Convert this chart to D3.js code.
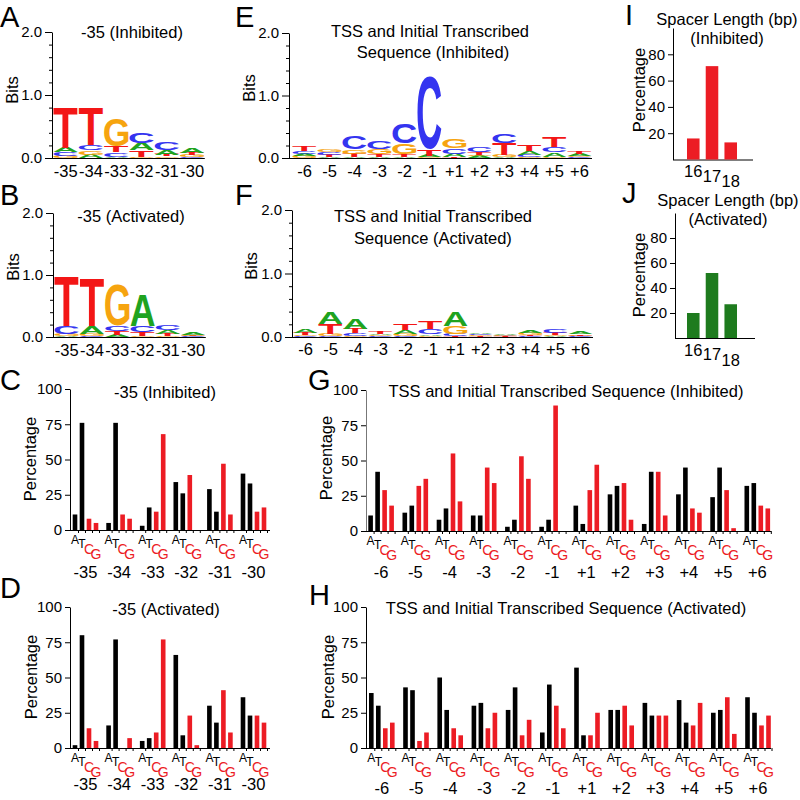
<!DOCTYPE html>
<html><head><meta charset="utf-8">
<script src="https://cdn.jsdelivr.net/npm/d3@7"></script>
<style>body{margin:0;background:#fff}</style>
</head><body>
<svg id="c" width="800" height="800"></svg>
<script>
// ---------------- DATA ----------------
const minus35Labels = ["-35","-34","-33","-32","-31","-30"];
const tssLabels = ["-6","-5","-4","-3","-2","-1","+1","+2","+3","+4","+5","+6"];
const nts = ["A","T","C","G"];
const spacerLengths = ["16","17","18"];

// sequence logos: each column lists [base, bits] from bottom to top
const logoInh35 = [
  [["G",.03],["C",.06],["A",.07],["T",.64]],
  [["A",.05],["G",.07],["C",.09],["T",.59]],
  [["A",.02],["C",.07],["T",.10],["G",.44]],
  [["G",.01],["T",.11],["A",.12],["C",.16]],
  [["G",.025],["T",.03],["A",.07],["C",.13]],
  [["C",.01],["G",.03],["T",.04],["A",.08]]
];
const logoAct35 = [
  [["A",.01],["G",.03],["C",.13],["T",.79]],
  [["C",.01],["G",.04],["A",.13],["T",.78]],
  [["A",.03],["T",.07],["C",.09],["G",.65]],
  [["G",.02],["T",.06],["C",.10],["A",.50]],
  [["G",.02],["T",.03],["A",.06],["C",.08]],
  [["C",.01],["T",.01],["G",.02],["A",.04]]
];
const logoInhTSS = [
  [["G",.03],["A",.03],["C",.05],["T",.08]],
  [["A",.02],["T",.03],["C",.04],["G",.05]],
  [["A",.02],["T",.05],["G",.07],["C",.20]],
  [["A",.02],["T",.04],["G",.09],["C",.13]],
  [["A",.02],["T",.04],["G",.17],["C",.32]],
  [["G",.01],["A",.03],["T",.10],["C",1.15]],
  [["T",.02],["A",.05],["C",.08],["G",.15]],
  [["A",.03],["G",.02],["T",.04],["C",.08]],
  [["A",.02],["G",.03],["T",.18],["C",.15]],
  [["G",.02],["C",.03],["A",.06],["T",.10]],
  [["G",.02],["A",.07],["C",.08],["T",.16]],
  [["C",.01],["G",.02],["A",.03],["T",.04]]
];
const logoActTSS = [
  [["C",.01],["G",.02],["T",.04],["A",.06]],
  [["C",.02],["G",.03],["T",.16],["A",.19]],
  [["G",.02],["C",.04],["T",.07],["A",.16]],
  [["C",.01],["G",.02],["A",.02],["T",.04]],
  [["C",.02],["G",.03],["A",.06],["T",.10]],
  [["G",.02],["A",.02],["C",.08],["T",.11]],
  [["T",.02],["C",.03],["G",.13],["A",.22]],
  [["T",.01],["G",.02],["C",.02],["A",.02]],
  [["T",.01],["C",.01],["G",.01],["A",.02]],
  [["C",.01],["T",.02],["G",.03],["A",.04]],
  [["A",.01],["G",.02],["T",.04],["C",.05]],
  [["C",.01],["G",.01],["T",.02],["A",.04]]
];

// percentages per position: [A, T, C, G]
const pctInh35 = [[11,76,8,5],[5,76,11,8],[3,16,13,68],[34,26,39,0],[29,13,47,11],[40,33,13,16]];
const pctAct35 = [[2,80,14,5],[16,77,0,7],[5,7,11,77],[66,9,23,2],[30,18,41,11],[36,23,23,18]];
const pctInhTSS = [[11,42,29,18],[13,18,32,37],[8,16,55,21],[11,11,45,34],[3,8,53,37],[3,8,89,0],
                   [18,5,29,47],[26,32,34,8],[5,42,42,11],[26,45,16,13],[24,45,29,2],[32,34,18,16]];
const pctActTSS = [[39,30,14,18],[43,41,5,11],[50,27,14,9],[30,32,14,25],[27,43,9,20],[11,45,30,14],
                   [57,9,9,25],[27,27,30,16],[32,23,23,23],[34,18,16,32],[25,27,36,10],[36,25,16,23]];

const spacerInh = [16,71,13];
const spacerAct = [20,52,27];

// ---------------- STYLE ----------------
const FONT = '"Liberation Sans", Arial, Helvetica, sans-serif';
const baseColor = {A:"#1fa31f", C:"#3434f0", G:"#f6a40f", T:"#f31616"};
const RED = "#ec1c24";
const ntColor = {A:"#000", T:"#000", C:RED, G:RED};

const svg = d3.select("#c").style("font-family", FONT);

function txt(x, y, s, o = {}) {
  const t = svg.append("text").attr("x", x).attr("y", y).text(s)
    .attr("font-size", o.size || 16.5)
    .attr("text-anchor", o.anchor || "middle")
    .attr("fill", o.fill || "#000");
  return t;
}
function vtxt(cx, cy, s) {
  svg.append("text").attr("transform", `translate(${cx},${cy}) rotate(-90)`)
    .attr("text-anchor", "middle").attr("dominant-baseline", "central")
    .attr("font-size", 16.5).text(s);
}
function styleAxis(g, size) {
  g.selectAll("text").attr("font-size", size || 15).attr("font-family", FONT).attr("fill", "#000");
}

// glyph metrics for logo letters
const ctx = document.createElement("canvas").getContext("2d");
ctx.font = `bold 100px ${FONT}`;
const gm = {};
for (const b of "ACGT") {
  const m = ctx.measureText(b);
  gm[b] = {l: m.actualBoundingBoxLeft, r: m.actualBoundingBoxRight, a: m.actualBoundingBoxAscent, d: m.actualBoundingBoxDescent};
}
function glyph(g, b, x, yTop, w, h) {
  if (h <= 0) return;
  const m = gm[b];
  const gw = m.l + m.r, gh = m.a + m.d;
  g.append("text").text(b).attr("x", 0).attr("y", 0)
    .attr("font-size", 100).attr("font-weight", "bold").attr("font-family", FONT)
    .attr("fill", baseColor[b])
    .attr("transform", `translate(${x},${yTop + h}) scale(${w / gw},${h / gh}) translate(${m.l},${-m.d})`);
}

// ---------------- PANELS ----------------
function logoPanel({axisX, y0, y2, colStart, colW, labels, data, labelY}) {
  const y = d3.scaleLinear().domain([0, 2]).range([y0, y2]);
  const x = d3.scaleBand().domain(labels).range([colStart, colStart + colW * labels.length]);
  const g = svg.append("g");
  const minor = d3.range(1, 10).map(i => +(i * 0.2).toFixed(1)).filter(v => v !== 1);
  g.append("g").attr("transform", `translate(${axisX},0)`)
    .call(d3.axisLeft(y).tickValues(minor).tickSize(3).tickFormat(""))
    .call(a => a.select(".domain").remove());
  const ax = g.append("g").attr("transform", `translate(${axisX},0)`)
    .call(d3.axisLeft(y).tickValues([0, 1, 2]).tickFormat(d3.format(".1f")).tickSize(7).tickSizeOuter(0));
  styleAxis(ax, 15);
  g.append("line").attr("x1", axisX).attr("x2", x.range()[1]).attr("y1", y0 + .5).attr("y2", y0 + .5).attr("stroke", "#000");
  const lg = svg.append("g");
  data.forEach((col, i) => {
    let acc = 0;
    col.forEach(([b, h]) => {
      const yb = y(acc), yt = y(acc + h);
      acc += h;
      glyph(lg, b, x(labels[i]) + 0.5, yt, x.bandwidth() - 1, yb - yt);
    });
  });
  labels.forEach(l => txt(x(l) + x.bandwidth() / 2, labelY, l, {size: 16.5}));
}

function barPanel({axisX, y0, y100, groupStart, groupStep, labels, data, labelY, axisEnd, axisColor}) {
  const y = d3.scaleLinear().domain([0, 100]).range([y0, y100]);
  const gx = d3.scaleBand().domain(labels).range([groupStart, groupStart + groupStep * labels.length]);
  const bx = d3.scaleBand().domain(nts).range([0, 28]).paddingInner(0.34).paddingOuter(0.17);
  const g = svg.append("g");
  const ax = g.append("g").attr("transform", `translate(${axisX},0)`)
    .call(d3.axisLeft(y).tickValues([0, 25, 50, 75, 100]).tickSize(5).tickSizeOuter(0));
  styleAxis(ax, 15);
  if (axisColor) ax.select(".domain").attr("stroke", axisColor);
  g.append("line").attr("x1", axisX).attr("x2", axisEnd).attr("y1", y0 + .5).attr("y2", y0 + .5).attr("stroke", "#000");
  labels.forEach((l, i) => {
    nts.forEach((n, j) => {
      const bxPos = gx(l) + bx(n);
      const v = data[i][j];
      if (v > 0) g.append("rect").attr("x", bxPos).attr("y", y(v)).attr("width", bx.bandwidth())
        .attr("height", y(0) - y(v)).attr("fill", ntColor[n]);
      const tx = bxPos + bx.bandwidth() + (bx.step() - bx.bandwidth()) / 2;
      g.append("line").attr("x1", tx).attr("x2", tx).attr("y1", y0).attr("y2", y0 + 3).attr("stroke", "#000");
    });
    // staircase nucleotide labels
    const dy = {A: 14, T: 18, C: 24, G: 29}, fs = {A: 12, T: 12, C: 14, G: 14};
    nts.forEach(n => {
      txt(gx(l) + bx(n) + bx.bandwidth() / 2, y0 + dy[n], n, {size: fs[n], fill: ntColor[n]});
    });
    txt(gx(l) + 14, labelY, l, {size: 16.5});
  });
}

function spacerPanel({axisX, y0, y100, data, color}) {
  const y = d3.scaleLinear().domain([0, 100]).range([y0, y100]);
  const x = d3.scaleBand().domain(spacerLengths).range([684, 740]).paddingInner(0.33).paddingOuter(0.16);
  const g = svg.append("g");
  const ax = g.append("g").attr("transform", `translate(${axisX},0)`)
    .call(d3.axisLeft(y).tickValues([20, 40, 60, 80]).tickSize(5).tickSizeOuter(0));
  styleAxis(ax, 15);
  g.append("line").attr("x1", axisX).attr("x2", axisX + 80).attr("y1", y0 + .5).attr("y2", y0 + .5).attr("stroke", "#000");
  spacerLengths.forEach((s, i) => {
    g.append("rect").attr("x", x(s)).attr("y", y(data[i])).attr("width", x.bandwidth())
      .attr("height", y(0) - y(data[i])).attr("fill", color);
    txt(x(s) + x.bandwidth() / 2, y0 + [17.5, 22, 27.5][i], s, {size: 16.5});
  });
}

// ---- A ----
txt(0, 27, "A", {size: 29, anchor: "start"});
txt(132, 38, "-35  (Inhibited)");
vtxt(12, 90, "Bits");
logoPanel({axisX: 52, y0: 158, y2: 32, colStart: 53, colW: 25.3, labels: minus35Labels, data: logoInh35, labelY: 177});

// ---- B ----
txt(0, 205, "B", {size: 29, anchor: "start"});
txt(131, 222, "-35 (Activated)");
vtxt(13, 267, "Bits");
logoPanel({axisX: 53, y0: 337, y2: 213, colStart: 54, colW: 25.3, labels: minus35Labels, data: logoAct35, labelY: 356});

// ---- C ----
txt(0, 390, "C", {size: 29, anchor: "start"});
txt(165, 398, "-35 (Inhibited)");
vtxt(30, 459, "Percentage");
barPanel({axisX: 70, y0: 530, y100: 389, groupStart: 71.5, groupStep: 33.6, labels: minus35Labels, data: pctInh35, labelY: 578, axisEnd: 270});

// ---- D ----
txt(0, 598, "D", {size: 29, anchor: "start"});
txt(166, 615, "-35 (Activated)");
vtxt(31, 677, "Percentage");
barPanel({axisX: 70, y0: 748, y100: 607, groupStart: 71.5, groupStep: 33.6, labels: minus35Labels, data: pctAct35, labelY: 790, axisEnd: 270});

// ---- E ----
txt(235, 27, "E", {size: 29, anchor: "start"});
txt(430, 37, "TSS  and Initial Transcribed");
txt(433, 58, "Sequence (Inhibited)");
vtxt(249, 88, "Bits");
logoPanel({axisX: 289, y0: 158, y2: 33, colStart: 292, colW: 25, labels: tssLabels, data: logoInhTSS, labelY: 177});

// ---- F ----
txt(235, 205, "F", {size: 29, anchor: "start"});
txt(433, 222, "TSS and Initial Transcribed");
txt(433, 244, "Sequence (Activated)");
vtxt(251, 266, "Bits");
logoPanel({axisX: 292, y0: 337, y2: 210, colStart: 293, colW: 25, labels: tssLabels, data: logoActTSS, labelY: 355});

// ---- G ----
txt(308, 390, "G", {size: 29, anchor: "start"});
txt(566, 397, "TSS and Initial Transcribed Sequence (Inhibited)");
vtxt(326, 458, "Percentage");
barPanel({axisX: 366, y0: 531, y100: 390, groupStart: 367.1, groupStep: 34.2, labels: tssLabels, data: pctInhTSS, labelY: 578, axisEnd: 771, axisColor: "#777"});

// ---- H ----
txt(309, 605, "H", {size: 29, anchor: "start"});
txt(566, 614, "TSS and Initial Transcribed Sequence (Activated)");
vtxt(328, 677, "Percentage");
barPanel({axisX: 366, y0: 748, y100: 607, groupStart: 367.8, groupStep: 34.2, labels: tssLabels, data: pctActTSS, labelY: 794, axisEnd: 771});

// ---- I ----
txt(625, 25, "I", {size: 29, anchor: "start"});
txt(727, 25, "Spacer Length (bp)");
txt(727, 44, "(Inhibited)");
vtxt(639, 90, "Percentage");
spacerPanel({axisX: 673, y0: 159.5, y100: 28, data: spacerInh, color: RED});

// ---- J ----
txt(622, 203, "J", {size: 29, anchor: "start"});
txt(728, 206, "Spacer Length (bp)");
txt(728, 225, "(Activated)");
vtxt(639, 275, "Percentage");
spacerPanel({axisX: 675, y0: 338, y100: 213, data: spacerAct, color: "#1e7b1e"});
</script>
</body></html>
